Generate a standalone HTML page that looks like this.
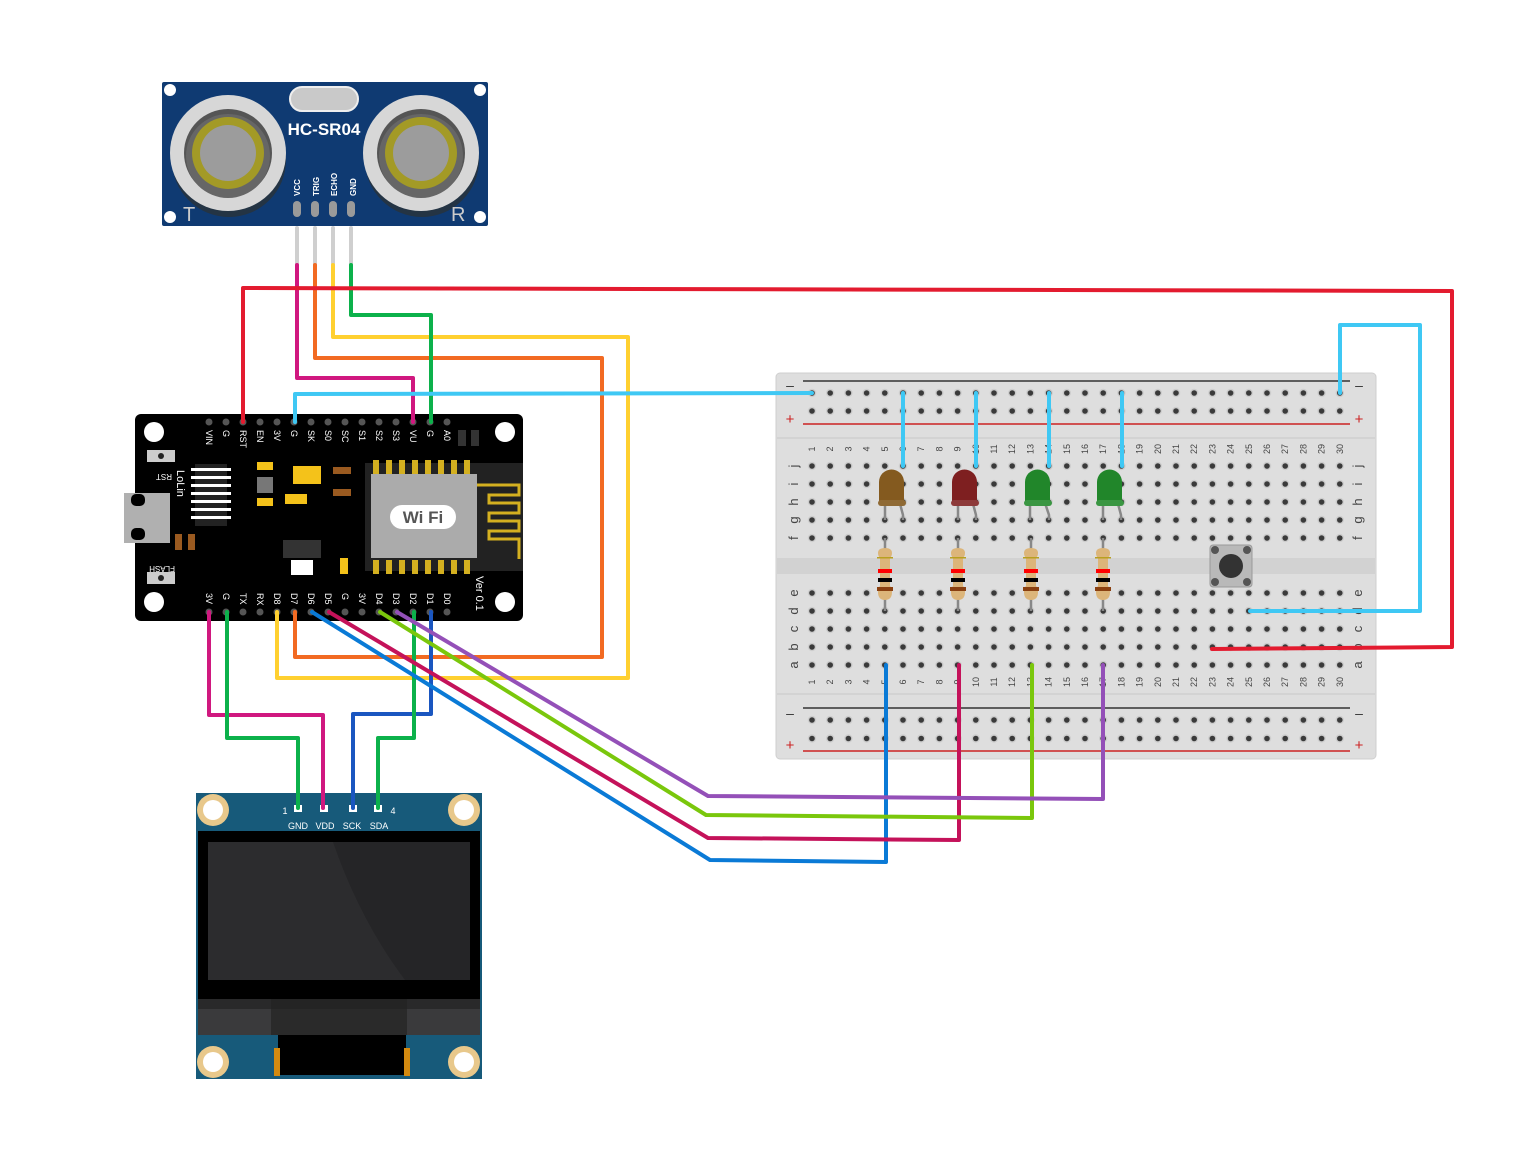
<!DOCTYPE html>
<html><head><meta charset="utf-8"><style>
html,body{margin:0;padding:0;background:#fff;}
svg{display:block;}
text{font-family:"Liberation Sans",sans-serif;}
</style></head><body>
<svg width="1536" height="1169" viewBox="0 0 1536 1169" xmlns="http://www.w3.org/2000/svg">
<defs>
<pattern id="holesT" x="802.9" y="384" width="18.2" height="18" patternUnits="userSpaceOnUse">
<circle cx="9.1" cy="9" r="4.2" fill="#cdcdcd"/><circle cx="9.1" cy="9" r="2.8" fill="#3a3a3a"/>
</pattern>
<pattern id="holesB" x="802.9" y="711" width="18.2" height="18.5" patternUnits="userSpaceOnUse">
<circle cx="9.1" cy="9" r="4.2" fill="#cdcdcd"/><circle cx="9.1" cy="9" r="2.8" fill="#3a3a3a"/>
</pattern>
<pattern id="holesJ" x="802.9" y="457" width="18.2" height="18" patternUnits="userSpaceOnUse">
<circle cx="9.1" cy="9" r="4.2" fill="#cdcdcd"/><circle cx="9.1" cy="9" r="2.8" fill="#3a3a3a"/>
</pattern>
<pattern id="holesE" x="802.9" y="584" width="18.2" height="18" patternUnits="userSpaceOnUse">
<circle cx="9.1" cy="9" r="4.2" fill="#cdcdcd"/><circle cx="9.1" cy="9" r="2.8" fill="#3a3a3a"/>
</pattern>
</defs>

<!-- ===== Breadboard ===== -->
<rect x="776" y="373" width="600" height="386" rx="4" fill="#dedede" stroke="#cfcfcf"/>
<line x1="777" y1="438" x2="1375" y2="438" stroke="#cfcfcf" stroke-width="1.5"/>
<line x1="777" y1="694" x2="1375" y2="694" stroke="#cfcfcf" stroke-width="1.5"/>
<rect x="777" y="558" width="598" height="16" fill="#d2d2d2"/>
<line x1="803" y1="381" x2="1350" y2="381" stroke="#333" stroke-width="1.5"/>
<line x1="803" y1="424" x2="1350" y2="424" stroke="#c22" stroke-width="1.5"/>
<line x1="803" y1="708" x2="1350" y2="708" stroke="#333" stroke-width="1.5"/>
<line x1="803" y1="751" x2="1350" y2="751" stroke="#c22" stroke-width="1.5"/>
<rect x="803" y="384" width="546" height="36" fill="url(#holesT)"/>
<rect x="803" y="711" width="546" height="37" fill="url(#holesB)"/>
<rect x="803" y="457" width="546" height="90" fill="url(#holesJ)"/>
<rect x="803" y="584" width="546" height="90" fill="url(#holesE)"/>
<g font-size="14" fill="#333" text-anchor="middle">
<text x="790" y="390">–</text><text x="1359" y="390">–</text>
<text x="790" y="718">–</text><text x="1359" y="718">–</text>
</g>
<g font-size="15" fill="#c22" text-anchor="middle">
<text x="790" y="424">+</text><text x="1359" y="424">+</text>
<text x="790" y="750">+</text><text x="1359" y="750">+</text>
</g>
<g font-size="13" fill="#444" text-anchor="middle">
<text transform="translate(794,466) rotate(-90)" dy="4">j</text>
<text transform="translate(794,484) rotate(-90)" dy="4">i</text>
<text transform="translate(794,502) rotate(-90)" dy="4">h</text>
<text transform="translate(794,520) rotate(-90)" dy="4">g</text>
<text transform="translate(794,538) rotate(-90)" dy="4">f</text>
<text transform="translate(794,593) rotate(-90)" dy="4">e</text>
<text transform="translate(794,611) rotate(-90)" dy="4">d</text>
<text transform="translate(794,629) rotate(-90)" dy="4">c</text>
<text transform="translate(794,647) rotate(-90)" dy="4">b</text>
<text transform="translate(794,665) rotate(-90)" dy="4">a</text>
<text transform="translate(1358,466) rotate(-90)" dy="4">j</text>
<text transform="translate(1358,484) rotate(-90)" dy="4">i</text>
<text transform="translate(1358,502) rotate(-90)" dy="4">h</text>
<text transform="translate(1358,520) rotate(-90)" dy="4">g</text>
<text transform="translate(1358,538) rotate(-90)" dy="4">f</text>
<text transform="translate(1358,593) rotate(-90)" dy="4">e</text>
<text transform="translate(1358,611) rotate(-90)" dy="4">d</text>
<text transform="translate(1358,629) rotate(-90)" dy="4">c</text>
<text transform="translate(1358,647) rotate(-90)" dy="4">b</text>
<text transform="translate(1358,665) rotate(-90)" dy="4">a</text>
</g>
<g font-size="9" fill="#444" text-anchor="middle">
<text transform="translate(812,449) rotate(-90)" dy="3">1</text><text transform="translate(830.2,449) rotate(-90)" dy="3">2</text><text transform="translate(848.4,449) rotate(-90)" dy="3">3</text><text transform="translate(866.6,449) rotate(-90)" dy="3">4</text><text transform="translate(884.8,449) rotate(-90)" dy="3">5</text><text transform="translate(903,449) rotate(-90)" dy="3">6</text><text transform="translate(921.2,449) rotate(-90)" dy="3">7</text><text transform="translate(939.4,449) rotate(-90)" dy="3">8</text><text transform="translate(957.6,449) rotate(-90)" dy="3">9</text><text transform="translate(975.8,449) rotate(-90)" dy="3">10</text><text transform="translate(994,449) rotate(-90)" dy="3">11</text><text transform="translate(1012.2,449) rotate(-90)" dy="3">12</text><text transform="translate(1030.4,449) rotate(-90)" dy="3">13</text><text transform="translate(1048.6,449) rotate(-90)" dy="3">14</text><text transform="translate(1066.8,449) rotate(-90)" dy="3">15</text><text transform="translate(1085,449) rotate(-90)" dy="3">16</text><text transform="translate(1103.2,449) rotate(-90)" dy="3">17</text><text transform="translate(1121.4,449) rotate(-90)" dy="3">18</text><text transform="translate(1139.6,449) rotate(-90)" dy="3">19</text><text transform="translate(1157.8,449) rotate(-90)" dy="3">20</text><text transform="translate(1176,449) rotate(-90)" dy="3">21</text><text transform="translate(1194.2,449) rotate(-90)" dy="3">22</text><text transform="translate(1212.4,449) rotate(-90)" dy="3">23</text><text transform="translate(1230.6,449) rotate(-90)" dy="3">24</text><text transform="translate(1248.8,449) rotate(-90)" dy="3">25</text><text transform="translate(1267,449) rotate(-90)" dy="3">26</text><text transform="translate(1285.2,449) rotate(-90)" dy="3">27</text><text transform="translate(1303.4,449) rotate(-90)" dy="3">28</text><text transform="translate(1321.6,449) rotate(-90)" dy="3">29</text><text transform="translate(1339.8,449) rotate(-90)" dy="3">30</text>
<text transform="translate(812,682) rotate(-90)" dy="3">1</text><text transform="translate(830.2,682) rotate(-90)" dy="3">2</text><text transform="translate(848.4,682) rotate(-90)" dy="3">3</text><text transform="translate(866.6,682) rotate(-90)" dy="3">4</text><text transform="translate(884.8,682) rotate(-90)" dy="3">5</text><text transform="translate(903,682) rotate(-90)" dy="3">6</text><text transform="translate(921.2,682) rotate(-90)" dy="3">7</text><text transform="translate(939.4,682) rotate(-90)" dy="3">8</text><text transform="translate(957.6,682) rotate(-90)" dy="3">9</text><text transform="translate(975.8,682) rotate(-90)" dy="3">10</text><text transform="translate(994,682) rotate(-90)" dy="3">11</text><text transform="translate(1012.2,682) rotate(-90)" dy="3">12</text><text transform="translate(1030.4,682) rotate(-90)" dy="3">13</text><text transform="translate(1048.6,682) rotate(-90)" dy="3">14</text><text transform="translate(1066.8,682) rotate(-90)" dy="3">15</text><text transform="translate(1085,682) rotate(-90)" dy="3">16</text><text transform="translate(1103.2,682) rotate(-90)" dy="3">17</text><text transform="translate(1121.4,682) rotate(-90)" dy="3">18</text><text transform="translate(1139.6,682) rotate(-90)" dy="3">19</text><text transform="translate(1157.8,682) rotate(-90)" dy="3">20</text><text transform="translate(1176,682) rotate(-90)" dy="3">21</text><text transform="translate(1194.2,682) rotate(-90)" dy="3">22</text><text transform="translate(1212.4,682) rotate(-90)" dy="3">23</text><text transform="translate(1230.6,682) rotate(-90)" dy="3">24</text><text transform="translate(1248.8,682) rotate(-90)" dy="3">25</text><text transform="translate(1267,682) rotate(-90)" dy="3">26</text><text transform="translate(1285.2,682) rotate(-90)" dy="3">27</text><text transform="translate(1303.4,682) rotate(-90)" dy="3">28</text><text transform="translate(1321.6,682) rotate(-90)" dy="3">29</text><text transform="translate(1339.8,682) rotate(-90)" dy="3">30</text>
</g>

<!-- LEDs -->
<g stroke="#888" stroke-width="2.5" fill="none">
<path d="M885 500 V520"/><path d="M899 500 L903 515 V520"/>
<path d="M958 500 V520"/><path d="M972 500 L976 515 V520"/>
<path d="M1030 500 V520"/><path d="M1044 500 L1049 515 V520"/>
<path d="M1103 500 V520"/><path d="M1117 500 L1121 515 V520"/>
</g>
<g>
<path d="M879 505 V482 a12.5 12.5 0 0 1 25 0 V505 Z" fill="#845a1f"/><rect x="878" y="500" width="28" height="6" rx="3" fill="#8f6a35"/>
<path d="M952 505 V482 a12.5 12.5 0 0 1 25 0 V505 Z" fill="#7e1f20"/><rect x="951" y="500" width="28" height="6" rx="3" fill="#8d3a3a"/>
<path d="M1025 505 V482 a12.5 12.5 0 0 1 25 0 V505 Z" fill="#21862a"/><rect x="1024" y="500" width="28" height="6" rx="3" fill="#3a9642"/>
<path d="M1097 505 V482 a12.5 12.5 0 0 1 25 0 V505 Z" fill="#21862a"/><rect x="1096" y="500" width="28" height="6" rx="3" fill="#3a9642"/>
</g>
<!-- Resistors -->
<g id="res">
<line x1="885" y1="538" x2="885" y2="611" stroke="#888" stroke-width="2.5"/>
<path d="M878 553 q0 -5 7 -5 q7 0 7 5 q0 3 -2 5 v28 q2 2 2 6 q0 8 -7 8 q-7 0 -7 -8 q0 -4 2 -6 v-28 q-2 -2 -2 -5 z" fill="#dcb57a"/>
<rect x="877" y="557" width="16" height="1.5" fill="#b8a020"/>
<rect x="878" y="569" width="14" height="4" fill="#f00"/>
<rect x="878" y="578" width="14" height="4" fill="#000"/>
<rect x="877" y="587" width="16" height="4" fill="#8a4010"/>
</g>
<use href="#res" x="73"/><use href="#res" x="146"/><use href="#res" x="218"/>
<!-- Button -->
<rect x="1210" y="545" width="42" height="42" rx="3" fill="#b9b9b9" stroke="#999"/>
<circle cx="1215" cy="550" r="4" fill="#555"/><circle cx="1247" cy="550" r="4" fill="#555"/>
<circle cx="1215" cy="582" r="4" fill="#555"/><circle cx="1247" cy="582" r="4" fill="#555"/>
<circle cx="1231" cy="566" r="12" fill="#333"/>

<!-- ===== HC-SR04 ===== -->
<rect x="162" y="82" width="326" height="144" rx="2" fill="#0f3a72"/>
<circle cx="170" cy="90" r="6" fill="#fff"/><circle cx="480" cy="90" r="6" fill="#fff"/>
<circle cx="170" cy="217" r="6" fill="#fff"/><circle cx="480" cy="217" r="6" fill="#fff"/>
<rect x="290" y="87" width="68" height="24" rx="12" fill="#c9c9c9" stroke="#eee" stroke-width="2"/>
<g>
<circle cx="229" cy="160" r="57" fill="#243444"/>
<circle cx="228" cy="153" r="58" fill="#d7d7d7"/>
<circle cx="228" cy="153" r="44" fill="#555"/>
<circle cx="228" cy="156" r="42" fill="#666"/>
<circle cx="228" cy="153" r="36" fill="#a39a26"/>
<circle cx="228" cy="153" r="28" fill="#9c9c9c"/>
<circle cx="422" cy="160" r="57" fill="#243444"/>
<circle cx="421" cy="153" r="58" fill="#d7d7d7"/>
<circle cx="421" cy="153" r="44" fill="#555"/>
<circle cx="421" cy="156" r="42" fill="#666"/>
<circle cx="421" cy="153" r="36" fill="#a39a26"/>
<circle cx="421" cy="153" r="28" fill="#9c9c9c"/>
</g>
<text x="324" y="135" font-family="Liberation Mono,monospace" font-size="17" font-weight="bold" fill="#fff" text-anchor="middle">HC-SR04</text>
<g font-size="8" fill="#fff" font-weight="bold">
<text transform="translate(300,196) rotate(-90)">VCC</text>
<text transform="translate(319,196) rotate(-90)">TRIG</text>
<text transform="translate(337,196) rotate(-90)">ECHO</text>
<text transform="translate(356,196) rotate(-90)">GND</text>
</g>
<g fill="#9a9a9a"><rect x="293" y="201" width="8" height="16" rx="4"/><rect x="311" y="201" width="8" height="16" rx="4"/><rect x="329" y="201" width="8" height="16" rx="4"/><rect x="347" y="201" width="8" height="16" rx="4"/></g>
<text x="183" y="221" font-size="20" fill="#ccc">T</text>
<text x="451" y="221" font-size="20" fill="#ccc">R</text>

<!-- ===== NodeMCU ===== -->
<rect x="135" y="414" width="388" height="207" rx="6" fill="#000"/>
<circle cx="154" cy="432" r="10" fill="#fff"/><circle cx="505" cy="432" r="10" fill="#fff"/>
<circle cx="154" cy="602" r="10" fill="#fff"/><circle cx="505" cy="602" r="10" fill="#fff"/>
<rect x="124" y="493" width="46" height="50" fill="#b0b0b0"/>
<rect x="131" y="494" width="14" height="12" rx="5" fill="#000"/><rect x="131" y="528" width="14" height="12" rx="5" fill="#000"/>
<rect x="147" y="450" width="28" height="12" fill="#ccc"/><circle cx="161" cy="456" r="3" fill="#222"/>
<rect x="147" y="572" width="28" height="12" fill="#ccc"/><circle cx="161" cy="578" r="3" fill="#222"/>
<rect x="365" y="463" width="158" height="108" fill="#222"/>
<rect x="371" y="474" width="106" height="84" fill="#ababab"/>
<g fill="#d4b020"><rect x="373" y="460" width="6" height="14"/><rect x="386" y="460" width="6" height="14"/><rect x="399" y="460" width="6" height="14"/><rect x="412" y="460" width="6" height="14"/><rect x="425" y="460" width="6" height="14"/><rect x="438" y="460" width="6" height="14"/><rect x="451" y="460" width="6" height="14"/><rect x="464" y="460" width="6" height="14"/>
<rect x="373" y="560" width="6" height="14"/><rect x="386" y="560" width="6" height="14"/><rect x="399" y="560" width="6" height="14"/><rect x="412" y="560" width="6" height="14"/><rect x="425" y="560" width="6" height="14"/><rect x="438" y="560" width="6" height="14"/><rect x="451" y="560" width="6" height="14"/><rect x="464" y="560" width="6" height="14"/></g>
<path d="M477 485 h42 v10 h-30 v8 h30 v10 h-30 v8 h30 v10 h-30 v8 h30 v20" fill="none" stroke="#d4b020" stroke-width="3"/>
<rect x="390" y="505" width="66" height="24" rx="12" fill="#fff"/>
<text x="423" y="523" font-size="17" font-weight="bold" fill="#555" text-anchor="middle">Wi Fi</text>
<rect x="195" y="464" width="32" height="62" fill="#222"/>
<g fill="#fff"><rect x="191" y="468" width="40" height="3"/><rect x="191" y="476" width="40" height="3"/><rect x="191" y="484" width="40" height="3"/><rect x="191" y="492" width="40" height="3"/><rect x="191" y="500" width="40" height="3"/><rect x="191" y="508" width="40" height="3"/><rect x="191" y="516" width="40" height="3"/></g>
<rect x="257" y="462" width="16" height="8" fill="#f4c21a"/><rect x="257" y="477" width="16" height="16" fill="#777"/><rect x="257" y="498" width="16" height="8" fill="#f4c21a"/>
<rect x="293" y="466" width="28" height="18" fill="#f4c21a"/><rect x="285" y="494" width="22" height="10" fill="#f4c21a"/>
<rect x="333" y="467" width="18" height="7" fill="#9a5a20"/><rect x="333" y="489" width="18" height="7" fill="#9a5a20"/>
<rect x="283" y="540" width="38" height="18" fill="#333"/><rect x="291" y="560" width="22" height="15" fill="#fff"/>
<rect x="340" y="558" width="8" height="16" fill="#f4c21a"/>
<rect x="175" y="534" width="7" height="16" fill="#9a5a20"/><rect x="188" y="534" width="7" height="16" fill="#9a5a20"/>
<rect x="458" y="430" width="8" height="16" fill="#333"/><rect x="471" y="430" width="8" height="16" fill="#333"/>
<g fill="#555"><circle cx="209" cy="422" r="3.5"/><circle cx="226" cy="422" r="3.5"/><circle cx="243" cy="422" r="3.5"/><circle cx="260" cy="422" r="3.5"/><circle cx="277" cy="422" r="3.5"/><circle cx="294" cy="422" r="3.5"/><circle cx="311" cy="422" r="3.5"/><circle cx="328" cy="422" r="3.5"/><circle cx="345" cy="422" r="3.5"/><circle cx="362" cy="422" r="3.5"/><circle cx="379" cy="422" r="3.5"/><circle cx="396" cy="422" r="3.5"/><circle cx="413" cy="422" r="3.5"/><circle cx="430" cy="422" r="3.5"/><circle cx="447" cy="422" r="3.5"/>
<circle cx="209" cy="612" r="3.5"/><circle cx="226" cy="612" r="3.5"/><circle cx="243" cy="612" r="3.5"/><circle cx="260" cy="612" r="3.5"/><circle cx="277" cy="612" r="3.5"/><circle cx="294" cy="612" r="3.5"/><circle cx="311" cy="612" r="3.5"/><circle cx="328" cy="612" r="3.5"/><circle cx="345" cy="612" r="3.5"/><circle cx="362" cy="612" r="3.5"/><circle cx="379" cy="612" r="3.5"/><circle cx="396" cy="612" r="3.5"/><circle cx="413" cy="612" r="3.5"/><circle cx="430" cy="612" r="3.5"/><circle cx="447" cy="612" r="3.5"/></g>
<g font-size="9" fill="#fff">
<text transform="translate(206,430) rotate(90)">VIN</text><text transform="translate(223,430) rotate(90)">G</text><text transform="translate(240,430) rotate(90)">RST</text><text transform="translate(257,430) rotate(90)">EN</text><text transform="translate(274,430) rotate(90)">3V</text><text transform="translate(291,430) rotate(90)">G</text><text transform="translate(308,430) rotate(90)">SK</text><text transform="translate(325,430) rotate(90)">S0</text><text transform="translate(342,430) rotate(90)">SC</text><text transform="translate(359,430) rotate(90)">S1</text><text transform="translate(376,430) rotate(90)">S2</text><text transform="translate(393,430) rotate(90)">S3</text><text transform="translate(410,430) rotate(90)">VU</text><text transform="translate(427,430) rotate(90)">G</text><text transform="translate(444,430) rotate(90)">A0</text>
<text transform="translate(206,593) rotate(90)">3V</text><text transform="translate(223,593) rotate(90)">G</text><text transform="translate(240,593) rotate(90)">TX</text><text transform="translate(257,593) rotate(90)">RX</text><text transform="translate(274,593) rotate(90)">D8</text><text transform="translate(291,593) rotate(90)">D7</text><text transform="translate(308,593) rotate(90)">D6</text><text transform="translate(325,593) rotate(90)">D5</text><text transform="translate(342,593) rotate(90)">G</text><text transform="translate(359,593) rotate(90)">3V</text><text transform="translate(376,593) rotate(90)">D4</text><text transform="translate(393,593) rotate(90)">D3</text><text transform="translate(410,593) rotate(90)">D2</text><text transform="translate(427,593) rotate(90)">D1</text><text transform="translate(444,593) rotate(90)">D0</text>
<text transform="translate(177,470) rotate(90)" font-size="11">LoLin</text>
<text transform="translate(476,576) rotate(90)" font-size="11">Ver 0.1</text>
<text transform="translate(172,474) rotate(180)" font-size="8">RST</text>
<text transform="translate(175,566) rotate(180)" font-size="8">FLASH</text>
</g>

<!-- ===== OLED ===== -->
<rect x="196" y="793" width="286" height="286" fill="#175a7a"/>
<rect x="198" y="831" width="282" height="168" fill="#000"/>
<rect x="208" y="842" width="262" height="138" fill="#2c2c2e"/>
<path d="M333 842 H470 V980 H405 Q360 920 333 842 Z" fill="#252527"/>
<rect x="198" y="999" width="282" height="36" fill="#3a3a3c"/>
<rect x="271" y="999" width="136" height="36" fill="#2a2a2a"/>
<rect x="198" y="999" width="282" height="10" fill="#222" opacity="0.7"/>
<rect x="278" y="1035" width="128" height="40" fill="#000"/>
<rect x="274" y="1048" width="6" height="28" fill="#d48a10"/><rect x="404" y="1048" width="6" height="28" fill="#d48a10"/>
<g fill="#e8c88b"><circle cx="213" cy="810" r="16"/><circle cx="464" cy="810" r="16"/><circle cx="213" cy="1062" r="16"/><circle cx="464" cy="1062" r="16"/></g>
<g fill="#fff"><circle cx="213" cy="810" r="10"/><circle cx="464" cy="810" r="10"/><circle cx="213" cy="1062" r="10"/><circle cx="464" cy="1062" r="10"/></g>
<g fill="#fff"><rect x="294" y="805" width="8" height="7"/><rect x="320" y="805" width="8" height="7"/><rect x="349" y="805" width="8" height="7"/><rect x="374" y="805" width="8" height="7"/></g>
<g font-size="9" fill="#fff" text-anchor="middle">
<text x="285" y="814">1</text><text x="393" y="814">4</text>
<text x="298" y="829">GND</text><text x="325" y="829">VDD</text><text x="352" y="829">SCK</text><text x="379" y="829">SDA</text>
</g>

<!-- ===== Wires ===== -->
<g fill="none" stroke-width="4" stroke-linejoin="round" stroke-linecap="round">
<g stroke="#cfcfcf"><path d="M297 228 V265"/><path d="M315 228 V265"/><path d="M333 228 V265"/><path d="M351 228 V265"/></g>
<path d="M297 265 V378 H413 V422" stroke="#d0187f"/>
<path d="M315 265 V358 H602 V657 H295 V612" stroke="#f26a22"/>
<path d="M333 265 V337 H628 V678 H277 V612" stroke="#ffd030"/>
<path d="M351 265 V315 H431 V422" stroke="#0cb14b"/>
<path d="M243 422 V288 L1452 291 V647 L1212 649" stroke="#e31b2f"/>
<g stroke="#3fc8f4">
<path d="M295 422 V394 L812 393"/>
<path d="M1340 393 V325 H1420 V611 H1250"/>
<path d="M903 393 V466"/><path d="M976 393 V466"/><path d="M1049 393 V466"/><path d="M1122 393 V466"/>
</g>
<path d="M209 612 V715 H323 V808" stroke="#d0187f"/>
<path d="M227 612 V738 H298 V808" stroke="#0cb14b"/>
<path d="M431 612 V714 H353 V808" stroke="#1a56c0"/>
<path d="M414 612 V738 H378 V808" stroke="#0cb14b"/>
<path d="M312 612 L710 860 L886 862 V665" stroke="#0a7ad6"/>
<path d="M329 612 L708 838 L959 840 V665" stroke="#c4125a"/>
<path d="M380 612 L706 815 L1032 818 V665" stroke="#7ac70c"/>
<path d="M397 612 L708 796 L1103 799 V665" stroke="#9450b8"/>
</g>
</svg>
</body></html>
